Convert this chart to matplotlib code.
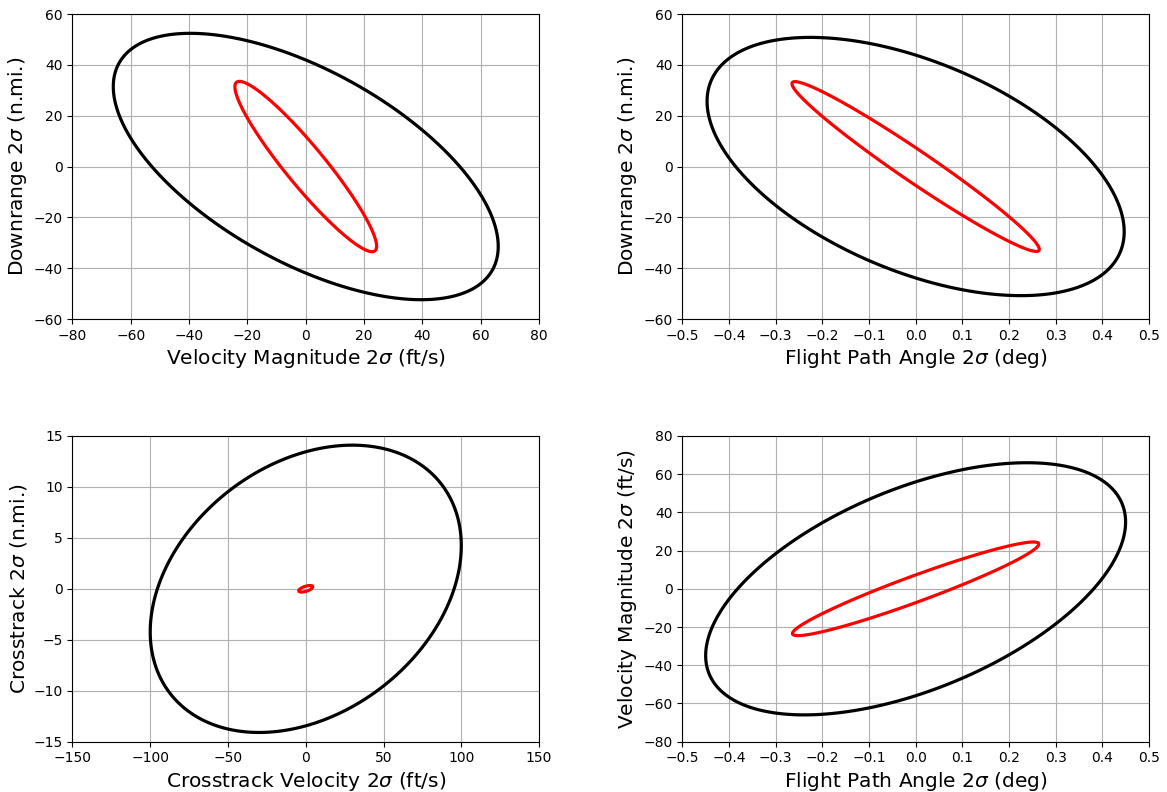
import numpy as np
import matplotlib
matplotlib.use("Agg")
import matplotlib.pyplot as plt

# Ellipse parameters: (x half-extent, y half-extent, correlation)
p1_black = (66.0, 52.4, -0.60)
p1_red = (24.3, 33.5, -0.935)
p2_black = (0.447, 50.8, -0.505)
p2_red = (0.265, 33.4, -0.975)
p3_black = (100.0, 14.1, 0.30)
p3_red = (4.5, 0.32, 0.6)
p4_black = (0.45, 66.0, 0.53)
p4_red = (0.264, 24.5, 0.955)

xlabels = ["Velocity Magnitude 2$\\sigma$ (ft/s)", "Flight Path Angle 2$\\sigma$ (deg)",
           "Crosstrack Velocity 2$\\sigma$ (ft/s)", "Flight Path Angle 2$\\sigma$ (deg)"]
ylabels = ["Downrange 2$\\sigma$ (n.mi.)", "Downrange 2$\\sigma$ (n.mi.)",
           "Crosstrack 2$\\sigma$ (n.mi.)", "Velocity Magnitude 2$\\sigma$ (ft/s)"]
xlims = [(-80, 80), (-0.5, 0.5), (-150, 150), (-0.5, 0.5)]
ylims = [(-60, 60), (-60, 60), (-15, 15), (-80, 80)]
xticks = [np.arange(-80, 81, 20), np.round(np.arange(-0.5, 0.51, 0.1), 1),
          np.arange(-150, 151, 50), np.round(np.arange(-0.5, 0.51, 0.1), 1)]
yticks = [np.arange(-60, 61, 20), np.arange(-60, 61, 20),
          np.arange(-15, 16, 5), np.arange(-80, 81, 20)]


def ellipse(params, n=600):
    sx, sy, r = params
    t = np.linspace(0, 2 * np.pi, n, endpoint=False)
    x = sx * np.cos(t)
    y = sy * (r * np.cos(t) + np.sqrt(1 - r * r) * np.sin(t))
    return x, y


fig = plt.figure(figsize=(11.67, 7.92), dpi=100)
positions = [
    (0.0621, 0.5972, 0.3998, 0.3851),
    (0.5847, 0.5972, 0.3998, 0.3851),
    (0.0621, 0.0636, 0.3998, 0.3859),
    (0.5847, 0.0636, 0.3998, 0.3859),
]
pairs = [(p1_black, p1_red), (p2_black, p2_red), (p3_black, p3_red), (p4_black, p4_red)]

for i, pos in enumerate(positions):
    ax = fig.add_axes(pos)
    blk, red = pairs[i]
    ax.fill(*ellipse(blk), facecolor="none", edgecolor="black", lw=2.3, zorder=3)
    ax.fill(*ellipse(red), facecolor="none", edgecolor="red", lw=2.3, zorder=3)
    ax.set_xlim(*xlims[i])
    ax.set_ylim(*ylims[i])
    ax.set_xticks(xticks[i])
    ax.set_yticks(yticks[i])
    ax.grid(True, color="#b0b0b0", lw=0.8)
    ax.set_axisbelow(True)
    ax.set_xlabel(xlabels[i], fontsize=14.5, labelpad=3)
    ax.set_ylabel(ylabels[i], fontsize=14.5, labelpad=3)
    ax.tick_params(labelsize=10)

fig.savefig("out.png", dpi=100)
